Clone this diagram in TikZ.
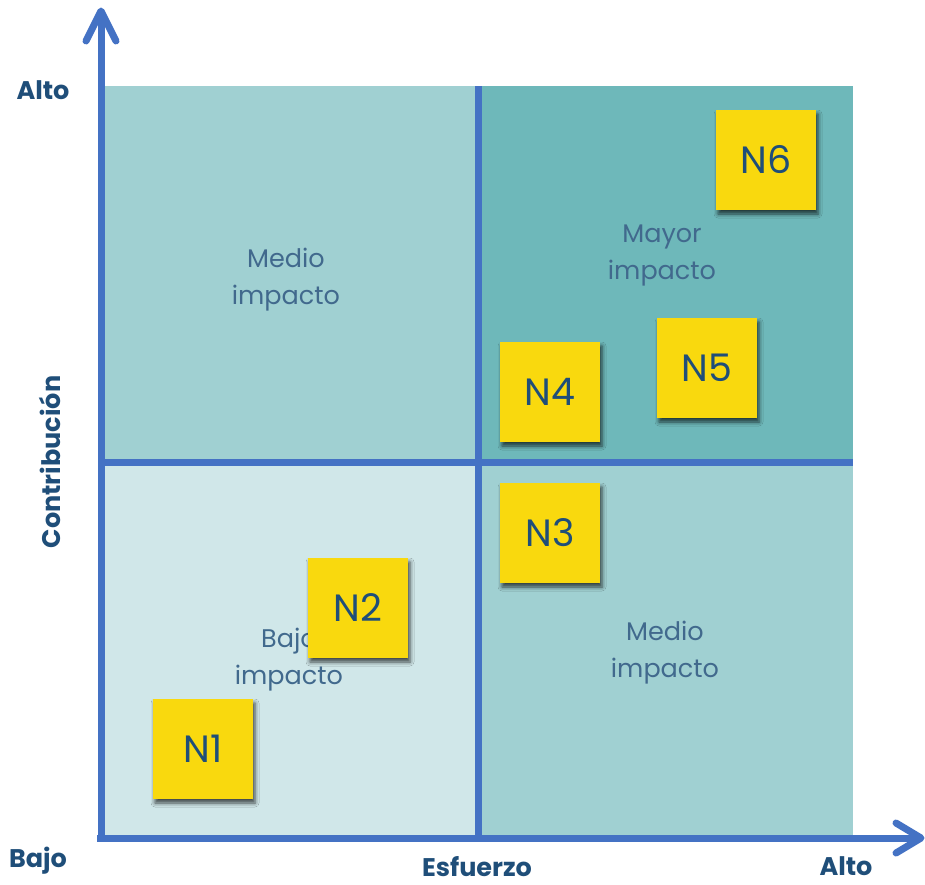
\documentclass[tikz,border=0pt]{standalone}
\usepackage{fontspec}
\setmainfont{Poppins}
\usetikzlibrary{shadows.blur}
\definecolor{axisblue}{HTML}{4472C4}
\definecolor{darkblue}{HTML}{1F4E79}
\definecolor{midteal}{HTML}{A0D0D2}
\definecolor{darkteal}{HTML}{6EB8BA}
\definecolor{lightteal}{HTML}{D0E7E9}
\definecolor{sticky}{HTML}{F9D90E}
\begin{document}
\begin{tikzpicture}[x=1pt,y=-1pt,
  axisline/.style={draw=axisblue,line width=7pt},
  chevron/.style={draw=axisblue,line width=7pt,line cap=round,line join=round},
  qlabel/.style={text=darkblue!85!white,align=center,font=\fontsize{25.5}{37}\selectfont},
  axlabel/.style={text=darkblue,inner sep=0pt,font=\bfseries\fontsize{25.5}{28}\selectfont},
  note/.style={fill=sticky,minimum width=100pt,minimum height=100pt,inner sep=0pt,
    text=darkblue,font=\fontsize{38}{42}\selectfont,
    blur shadow={shadow xshift=2pt,shadow yshift=-4pt,shadow blur radius=4pt,shadow opacity=70}}
]
\useasboundingbox (0,0) rectangle (925,884);
% quadrants
\fill[midteal] (104,86) rectangle (477,462);
\fill[darkteal] (477,86) rectangle (853,462);
\fill[lightteal] (104,462) rectangle (477,835);
\fill[midteal] (477,462) rectangle (853,835);
% dividers
\coordinate (vtop) at (478,86);
\coordinate (vbot) at (478,836);
\coordinate (hl) at (101,462);
\coordinate (hr) at (853,462);
\draw[axisline] (vtop) -- (vbot);
\draw[axisline] (hl) -- (hr);
% axes
\coordinate (ytip) at (101,11);
\coordinate (xtip) at (921,838);
\draw[axisline] (101,841) -- (ytip);
\draw[axisline] (97,838) -- (xtip);
\draw[chevron] (ytip) ++(-15,30) -- (ytip) -- ++(15,30);
\draw[chevron] (xtip) ++(-25,-15) -- (xtip) -- ++(-25,15);
% quadrant labels
\node[qlabel] (q1) at (286,280) {Medio\\impacto};
\node[qlabel] (q2) at (662,255) {Mayor\\impacto};
\node[qlabel] (q3) at (289,660) {Bajo\\impacto};
\node[qlabel] (q4) at (665,653) {Medio\\impacto};
% notes
\node[note] (n1) at (203,749) {N1};
\node[note] (n2) at (358,608) {N2};
\node[note] (n3) at (550,533) {N3};
\node[note] (n4) at (550,392) {N4};
\node[note] (n5) at (707,368) {N5};
\node[note] (n6) at (766,160) {N6};
% axis labels
\node[axlabel] (altoy) at (43,90) {Alto};
\node[axlabel] (bajo) at (38,861) {Bajo};
\node[axlabel] (esf) at (477,867) {Esfuerzo};
\node[axlabel] (altox) at (846,866) {Alto};
\node[axlabel,rotate=90] (contr) at (50,462) {Contribución};
\end{tikzpicture}
\end{document}
